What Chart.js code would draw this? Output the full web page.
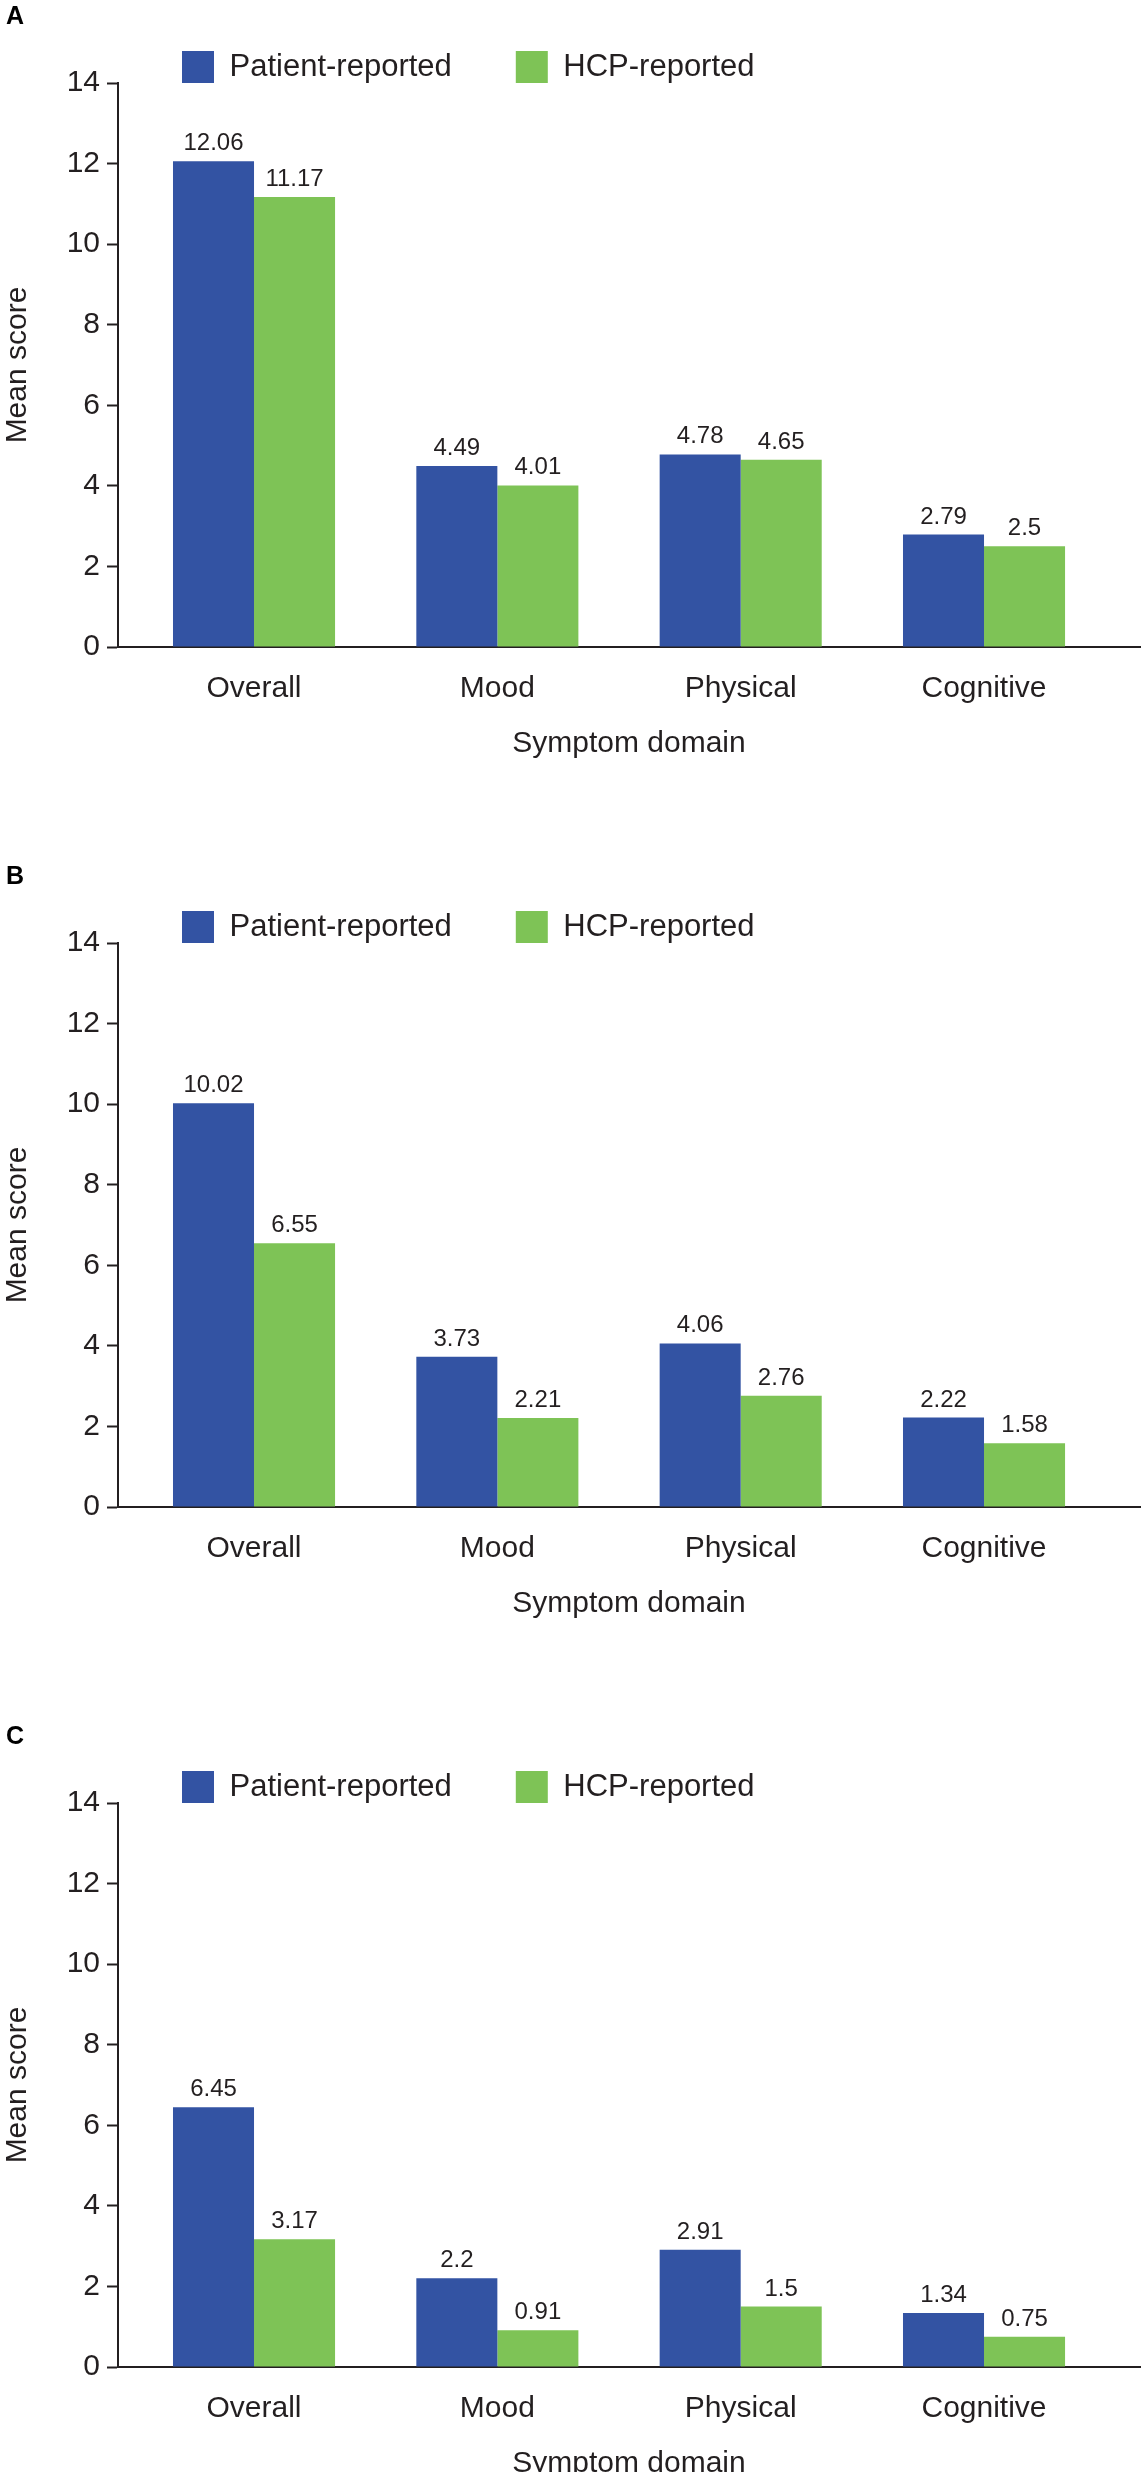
<!DOCTYPE html>
<html>
<head>
<meta charset="utf-8">
<script src="https://cdn.jsdelivr.net/npm/chart.js@4.4.1/dist/chart.umd.min.js"></script>
<style>
  html, body { margin: 0; padding: 0; background: #fff; width: 1142px; height: 2472px; overflow: hidden; }
  .panel { position: relative; width: 1142px; height: 860px; }
  .panel .lettre { position: absolute; left: 6px; top: 3px; font: bold 25px "Liberation Sans", Arial, sans-serif; line-height: 25px; color: #000; }
  canvas { display: block; }
</style>
</head>
<body>
<div class="panel"><div class="lettre">A</div><canvas id="chartA" width="1142" height="860"></canvas></div>
<div class="panel"><div class="lettre">B</div><canvas id="chartB" width="1142" height="860"></canvas></div>
<div class="panel"><div class="lettre">C</div><canvas id="chartC" width="1142" height="860"></canvas></div>
<script>
// Données
const categories = ['Overall', 'Mood', 'Physical', 'Cognitive'];
const seriesNames = ['Patient-reported', 'HCP-reported'];
const seriesColors = ['#3353a3', '#7ec356'];

const patientA = [12.06, 4.49, 4.78, 2.79];
const hcpA = [11.17, 4.01, 4.65, 2.5];
const patientB = [10.02, 3.73, 4.06, 2.22];
const hcpB = [6.55, 2.21, 2.76, 1.58];
const patientC = [6.45, 2.2, 2.91, 1.34];
const hcpC = [3.17, 0.91, 1.5, 0.75];

const yMin = 0;
const yMax = 14;
const yStep = 2;

const xTitle = 'Symptom domain';
const yTitle = 'Mean score';

const police = '"Liberation Sans", Arial, sans-serif';
const encre = '#231f20';

// étiquettes de valeur au-dessus des barres
const valeursPlugin = {
  id: 'valeurs',
  afterDatasetsDraw(chart) {
    const ctx = chart.ctx;
    ctx.save();
    ctx.font = '24px ' + police;
    ctx.fillStyle = encre;
    ctx.textAlign = 'center';
    ctx.textBaseline = 'alphabetic';
    chart.data.datasets.forEach((ds, i) => {
      const meta = chart.getDatasetMeta(i);
      meta.data.forEach((bar, j) => {
        ctx.fillText(String(ds.data[j].y), bar.x, bar.y - 11);
      });
    });
    ctx.restore();
  }
};

function dessiner(id, patient, hcp) {
  const series = [patient, hcp];
  new Chart(document.getElementById(id), {
    type: 'bar',
    data: {
      datasets: series.map((vals, i) => ({
        label: seriesNames[i],
        data: vals.map((v, k) => ({ x: k, y: v })),
        backgroundColor: seriesColors[i],
        borderWidth: 0,
        categoryPercentage: 0.666,
        barPercentage: 1
      }))
    },
    options: {
      responsive: false,
      animation: false,
      layout: { padding: { top: -13, right: 2, bottom: 98, left: 0 } },
      plugins: {
        tooltip: { enabled: false },
        legend: {
          position: 'top',
          align: 'start',
          fullSize: false,
          maxHeight: 96,
          labels: {
            boxWidth: 32,
            boxHeight: 32,
            padding: 64,
            color: encre,
            font: { family: police, size: 31 }
          }
        }
      },
      scales: {
        x: {
          type: 'linear',
          offset: false,
          min: -0.559,
          max: 3.641,
          grid: { display: false, offset: false },
          border: { display: true, color: encre, width: 2 },
          afterBuildTicks: (s) => { s.ticks = categories.map((c, i) => ({ value: i })); },
          ticks: {
            autoSkip: false,
            maxRotation: 0,
            padding: 16,
            color: encre,
            font: { family: police, size: 30 },
            callback: (v) => categories[v]
          },
          title: {
            display: true,
            text: xTitle,
            color: encre,
            padding: { top: 3, bottom: 0 },
            font: { family: police, size: 30 }
          }
        },
        y: {
          min: yMin,
          max: yMax,
          afterFit: (s) => { s.width = 118; },
          grid: {
            display: true,
            drawOnChartArea: false,
            drawTicks: true,
            tickLength: 11,
            tickColor: encre,
            tickWidth: 2
          },
          border: { display: true, color: encre, width: 2 },
          ticks: {
            stepSize: yStep,
            padding: 7,
            color: encre,
            font: { family: police, size: 30 }
          },
          title: {
            display: true,
            text: yTitle,
            color: encre,
            padding: { top: 0, bottom: 0 },
            font: { family: police, size: 30 }
          }
        }
      }
    },
    plugins: [valeursPlugin]
  });
}

dessiner('chartA', patientA, hcpA);
dessiner('chartB', patientB, hcpB);
dessiner('chartC', patientC, hcpC);
</script>
</body>
</html>
